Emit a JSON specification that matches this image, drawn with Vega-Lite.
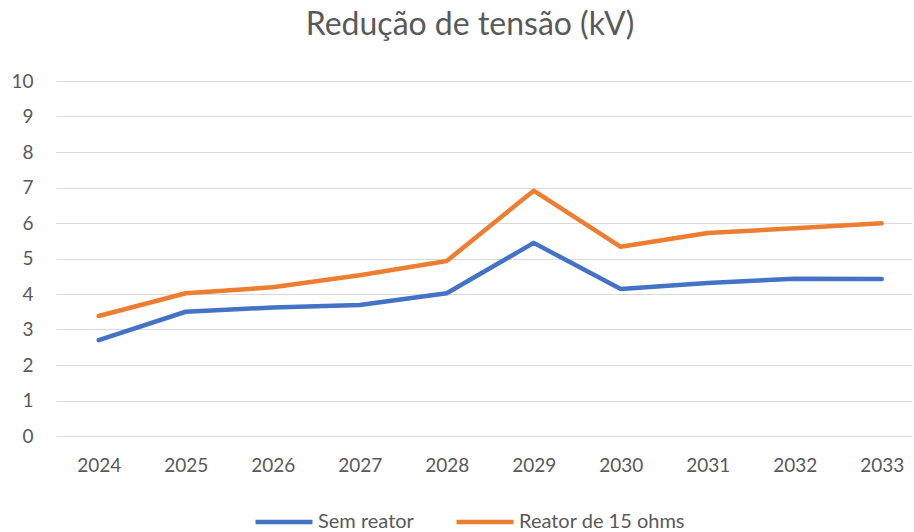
{
  "$schema": "https://vega.github.io/schema/vega-lite/v6.json",
  "autosize": "none",
  "width": 856,
  "height": 355,
  "padding": {"left": 56, "top": 81, "right": 2, "bottom": 96},
  "background": "white",
  "title": {
    "text": "Redução de tensão (kV)",
    "font": "Lato",
    "fontSize": 32,
    "fontWeight": "normal",
    "color": "#595959",
    "anchor": "middle",
    "frame": "group",
    "dx": -14,
    "baseline": "alphabetic",
    "offset": 5
  },
  "data": {
    "values": [
      {"year": 2024, "series": "Sem reator", "value": 2.70},
      {"year": 2025, "series": "Sem reator", "value": 3.50},
      {"year": 2026, "series": "Sem reator", "value": 3.62},
      {"year": 2027, "series": "Sem reator", "value": 3.69},
      {"year": 2028, "series": "Sem reator", "value": 4.02},
      {"year": 2029, "series": "Sem reator", "value": 5.44},
      {"year": 2030, "series": "Sem reator", "value": 4.14},
      {"year": 2031, "series": "Sem reator", "value": 4.31},
      {"year": 2032, "series": "Sem reator", "value": 4.43},
      {"year": 2033, "series": "Sem reator", "value": 4.42},
      {"year": 2024, "series": "Reator de 15 ohms", "value": 3.38},
      {"year": 2025, "series": "Reator de 15 ohms", "value": 4.02},
      {"year": 2026, "series": "Reator de 15 ohms", "value": 4.19},
      {"year": 2027, "series": "Reator de 15 ohms", "value": 4.53},
      {"year": 2028, "series": "Reator de 15 ohms", "value": 4.93},
      {"year": 2029, "series": "Reator de 15 ohms", "value": 6.91},
      {"year": 2030, "series": "Reator de 15 ohms", "value": 5.33},
      {"year": 2031, "series": "Reator de 15 ohms", "value": 5.72},
      {"year": 2032, "series": "Reator de 15 ohms", "value": 5.85},
      {"year": 2033, "series": "Reator de 15 ohms", "value": 5.99}
    ]
  },
  "mark": {"type": "line", "strokeWidth": 4.5, "strokeCap": "round", "strokeJoin": "round"},
  "encoding": {
    "x": {
      "field": "year",
      "type": "quantitative",
      "scale": {"domain": [2023.509, 2033.348], "nice": false, "zero": false},
      "axis": {
        "title": null,
        "values": [2024, 2025, 2026, 2027, 2028, 2029, 2030, 2031, 2032, 2033],
        "format": "d",
        "labelAngle": 0,
        "domain": false,
        "ticks": false,
        "grid": false,
        "labelFont": "Lato",
        "labelFontSize": 19,
        "labelColor": "#595959",
        "labelPadding": 20
      }
    },
    "y": {
      "field": "value",
      "type": "quantitative",
      "scale": {"domain": [0, 10], "nice": false},
      "axis": {
        "title": null,
        "values": [0, 1, 2, 3, 4, 5, 6, 7, 8, 9, 10],
        "domain": false,
        "ticks": false,
        "grid": true,
        "gridColor": "#D9D9D9",
        "gridWidth": 1.2,
        "labelFont": "Lato",
        "labelFontSize": 19,
        "labelColor": "#595959",
        "labelPadding": 23
      }
    },
    "color": {
      "field": "series",
      "type": "nominal",
      "scale": {"domain": ["Sem reator", "Reator de 15 ohms"], "range": ["#4472C4", "#ED7D31"]},
      "legend": {
        "title": null,
        "orient": "none",
        "direction": "horizontal",
        "legendX": 197,
        "legendY": 410,
        "padding": 0,
        "symbolType": "stroke",
        "symbolSize": 3249,
        "symbolStrokeWidth": 4.5,
        "labelFont": "Lato",
        "labelFontSize": 20,
        "labelLimit": 400,
        "labelColor": "#595959",
        "labelOffset": 3,
        "columnPadding": 33
      }
    }
  },
  "config": {"view": {"stroke": null}}
}
